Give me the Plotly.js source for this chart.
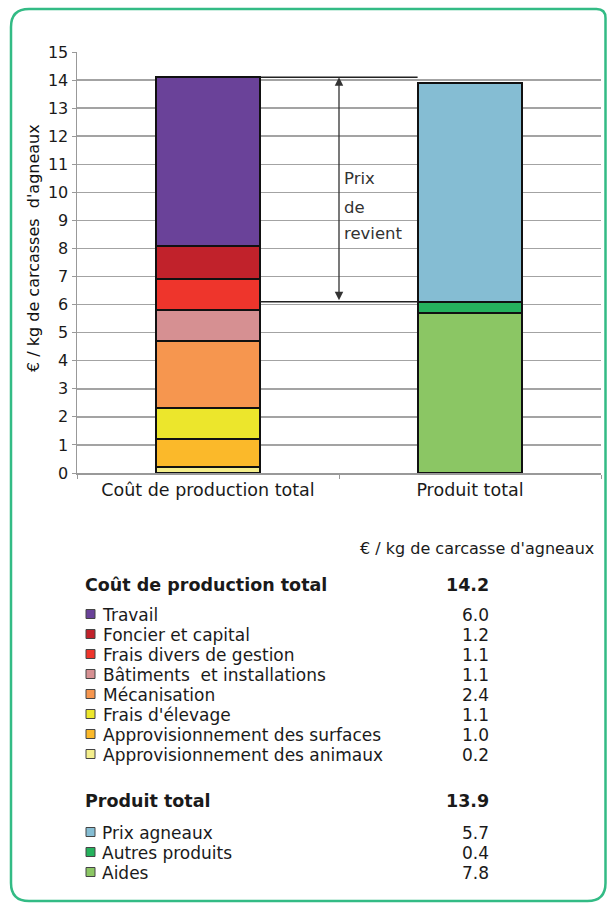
<!DOCTYPE html>
<html>
<head>
<meta charset="utf-8">
<script src="https://cdn.plot.ly/plotly-3.0.1.min.js"></script>
<style>
  html, body { margin: 0; padding: 0; background: #ffffff; }
  #chart { width: 607px; height: 903px; }
</style>
</head>
<body>
<div id="chart"></div>
<script>
// ---------- DATA ----------
const categories = ["Coût de production total", "Produit total"];

const costLabels = ["Travail", "Foncier et capital", "Frais divers de gestion", "Bâtiments  et installations",
                    "Mécanisation", "Frais d'élevage", "Approvisionnement des surfaces", "Approvisionnement des animaux"];
const costValues = [6.0, 1.2, 1.1, 1.1, 2.4, 1.1, 1.0, 0.2];
const costColors = ["#6a4299", "#c1222b", "#ee352c", "#d69092", "#f6964f", "#ece62c", "#fbb92a", "#f4ee8c"];
const costTotal = 14.2;

const productLabels = ["Prix agneaux", "Autres produits", "Aides"];
const productValues = [5.7, 0.4, 7.8];
const productLegendColors = ["#85bdd3", "#25b25d", "#8bc664"];
const productBarColors = ["#8bc664", "#25b25d", "#85bdd3"];   // bottom to top, as drawn
const productTotal = 13.9;

const yTicks = [0, 1, 2, 3, 4, 5, 6, 7, 8, 9, 10, 11, 12, 13, 14, 15];

const unitText = "€ / kg de carcasse d'agneaux";
const yTitle = "€ / kg de carcasses  d'agneaux";
const arrowLabel = ["Prix", "de", "revient"];

// ---------- LAYOUT HELPERS ----------
const W = 607, H = 903;
const L = 77, R = 6, T = 52, B = 430;
const pw = W - L - R, ph = H - T - B;
const px = x => (x - L) / pw;
const py = y => (H - B - y) / ph;
const FONT = "'DejaVu Sans', 'Open Sans', sans-serif";

// ---------- TRACES ----------
const traces = [];
for (let i = costValues.length - 1; i >= 0; i--) {
  traces.push({
    type: "bar", x: [categories[0]], y: [costValues[i]], name: costLabels[i],
    width: 0.4, marker: { color: costColors[i], line: { color: "#111111", width: 2 } },
    hoverinfo: "skip", showlegend: false
  });
}
for (let i = 0; i < productValues.length; i++) {
  traces.push({
    type: "bar", x: [categories[1]], y: [productValues[i]], name: productLabels[i],
    width: 0.4, marker: { color: productBarColors[i], line: { color: "#111111", width: 2 } },
    hoverinfo: "skip", showlegend: false
  });
}

const costSum = costValues.reduce((a, b) => a + b, 0);
const productBase = productValues[0] + productValues[1];

// ---------- SHAPES & ANNOTATIONS ----------
const shapes = [];
const annotations = [];

// reference lines
shapes.push({ type: "line", xref: "x", yref: "y", x0: 0.2, x1: 0.8, y0: costSum, y1: costSum,
              line: { color: "#222222", width: 1.5 } });
shapes.push({ type: "line", xref: "x", yref: "y", x0: 0.2, x1: 0.8, y0: productBase, y1: productBase,
              line: { color: "#222222", width: 1.5 } });

// double arrow
annotations.push({ xref: "x", yref: "y", axref: "x", ayref: "y", x: 0.5, y: costSum, ax: 0.5, ay: productBase,
                   text: "", showarrow: true, arrowside: "end+start", arrowhead: 2, arrowsize: 1.3,
                   arrowwidth: 1.3, arrowcolor: "#333333", standoff: 0, startstandoff: 0 });
const arrowTextY = [10.5, 9.47, 8.54];
arrowLabel.forEach((t, i) => {
  annotations.push({ xref: "x", yref: "y", x: 0.516, y: arrowTextY[i], text: t, showarrow: false,
                     xanchor: "left", yanchor: "middle", borderpad: 0,
                     font: { family: FONT, size: 16.5, color: "#333333" } });
});

// y-axis title
annotations.push({ xref: "paper", yref: "paper", x: px(33), y: py(248), text: yTitle, textangle: -90,
                   showarrow: false, xanchor: "center", yanchor: "middle",
                   font: { family: FONT, size: 16, color: "#111111" } });

// table helpers
const ROW = 20;                       // row pitch in px
const SPACING_FONT = ROW / 1.3;       // plotly line spacing is 1.3em
const txt = (x, y, t, anchor, bold, size) => annotations.push({
  xref: "paper", yref: "paper", x: px(x), y: py(y), text: bold ? "<b>" + t + "</b>" : t,
  showarrow: false, xanchor: anchor, yanchor: "middle", borderpad: 0,
  font: { family: FONT, size: size || 17, color: "#1a1a1a" }
});
const block = (x, yCenter, lines, anchor) => annotations.push({
  xref: "paper", yref: "paper", x: px(x), y: py(yCenter),
  text: lines.map(s => '<span style="font-size:17px">' + s + "</span>").join("<br>"),
  showarrow: false, xanchor: anchor, yanchor: "middle", align: anchor, borderpad: 0,
  font: { family: FONT, size: SPACING_FONT, color: "#1a1a1a" }
});
const swatch = (y, color) => shapes.push({
  type: "rect", xref: "paper", yref: "paper", x0: px(86), x1: px(95), y0: py(y + 4.5), y1: py(y - 4.5),
  fillcolor: color, line: { color: "#444444", width: 1 }
});

txt(595, 548, unitText, "right", false, 16);

// cost section
txt(84, 585, "Coût de production total", "left", true, 17.5);
txt(490, 585, costTotal.toFixed(1), "right", true, 17.5);
const costFirst = 614;
costLabels.forEach((lab, i) => swatch(costFirst + i * ROW, costColors[i]));
const costMid = costFirst + (costLabels.length - 1) * ROW / 2;
block(101, costMid + 1, costLabels, "left");
block(490, costMid + 1, costValues.map(v => v.toFixed(1)), "right");

// product section
txt(84, 801, "Produit total", "left", true, 17.5);
txt(490, 801, productTotal.toFixed(1), "right", true, 17.5);
const prodFirst = 832;
productLabels.forEach((lab, i) => swatch(prodFirst + i * ROW, productLegendColors[i]));
const prodMid = prodFirst + (productLabels.length - 1) * ROW / 2;
block(101, prodMid + 1, productLabels, "left");
block(490, prodMid + 1, productValues.map(v => v.toFixed(1)), "right");

// green rounded frame
(function () {
  const l = 11, t = 9, r = 605.5, b = 901, rad = 18, rr = 9;
  const P = (x, y) => px(x) + "," + py(y);
  const path = "M " + P(l, t + rad) + " Q " + P(l, t) + " " + P(l + rad, t) +
               " L " + P(r - rr, t) + " Q " + P(r, t) + " " + P(r, t + rr) +
               " L " + P(r, b - rad) + " Q " + P(r, b) + " " + P(r - rad, b) +
               " L " + P(l + rad, b) + " Q " + P(l, b) + " " + P(l, b - rad) + " Z";
  shapes.push({ type: "path", xref: "paper", yref: "paper", path: path,
                line: { color: "#33bb85", width: 2.5 }, fillcolor: "rgba(0,0,0,0)", layer: "above" });
})();

const layout = {
  width: W, height: H,
  margin: { l: L, r: R, t: T, b: B, pad: 0 },
  paper_bgcolor: "#ffffff", plot_bgcolor: "#ffffff",
  barmode: "stack",
  showlegend: false,
  font: { family: FONT, color: "#1a1a1a" },
  xaxis: {
    type: "category", categoryorder: "array", categoryarray: categories,
    range: [-0.5, 1.5], tickson: "boundaries", ticks: "outside", ticklen: 4, tickcolor: "#999999",
    showgrid: false, showline: true, linecolor: "#999999", linewidth: 1.5,
    tickfont: { family: FONT, size: 17.5, color: "#1a1a1a" }, fixedrange: true
  },
  yaxis: {
    range: [0, 15], tickvals: yTicks, ticktext: yTicks.map(String),
    ticks: "outside", ticklen: 4, tickcolor: "#999999",
    showgrid: true, gridcolor: "#a3a3a3", gridwidth: 1.5,
    showline: true, linecolor: "#999999", linewidth: 1.5, zeroline: false,
    tickfont: { family: FONT, size: 16, color: "#1a1a1a" }, fixedrange: true
  },
  shapes: shapes,
  annotations: annotations
};

Plotly.newPlot("chart", traces, layout, { staticPlot: true, displayModeBar: false });
</script>
</body>
</html>
